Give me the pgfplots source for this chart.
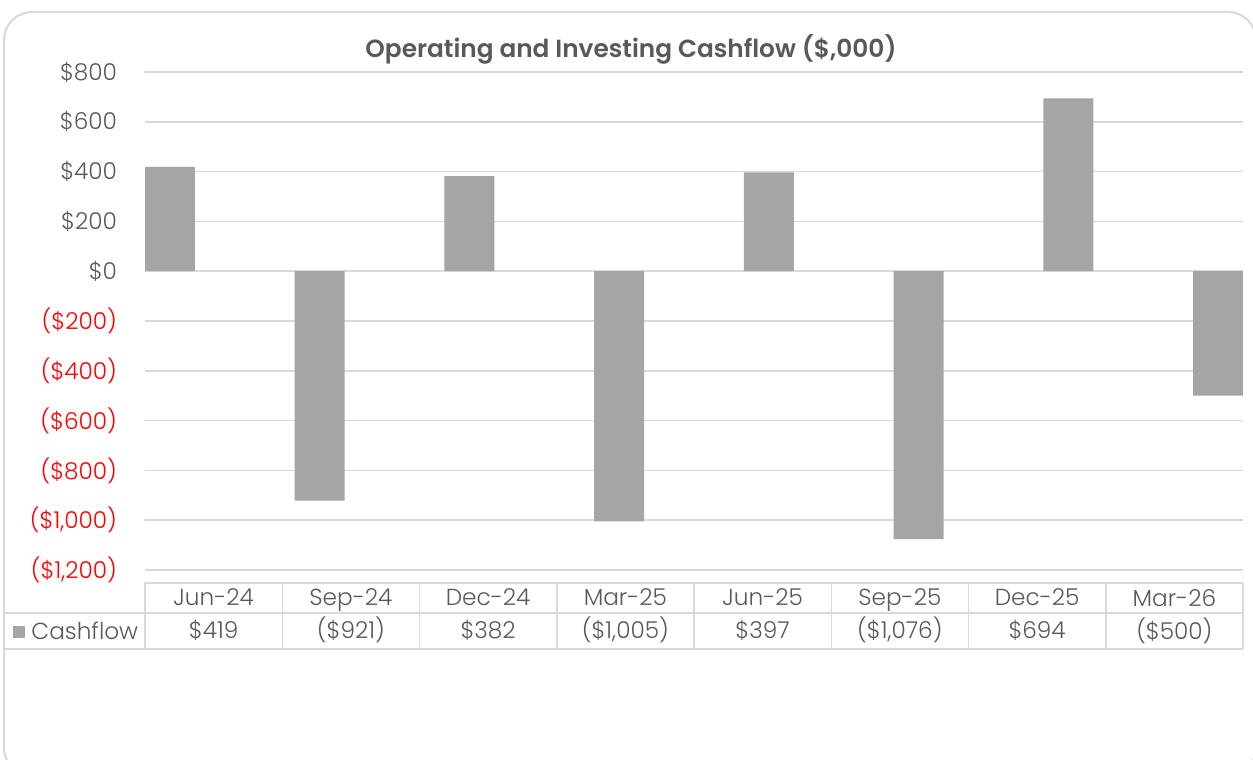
\documentclass[border=0pt]{standalone}
\usepackage{fontspec}
\setmainfont{Poppins Light}[BoldFont={Poppins SemiBold}]
\usepackage{pgfplots}
\pgfplotsset{compat=1.18}
\definecolor{txt}{HTML}{595959}
\definecolor{barc}{HTML}{A5A5A5}
\definecolor{grd}{HTML}{D9D9D9}
\begin{document}
\begin{tikzpicture}[x=0.5pt,y=0.5pt, font=\fontsize{11.6}{14}\selectfont]
\clip (0,0) rectangle (1253,760);
\fill[white] (0,0) rectangle (1253,760);
\draw[grd, line width=1pt, rounded corners=14pt] (4,748) rectangle (1256,-16);
\begin{axis}[at={(72.5pt,95pt)}, anchor=south west, scale only axis, width=549pt, height=249pt,
 xmin=-0.16667, xmax=7.16667, ymin=-1200, ymax=800,
 axis line style={draw=none}, major tick length=0,
 xtick={0.2917,1.2083,2.125,3.0417,3.9583,4.875,5.7917,6.7083},
 xticklabels={{Jun-24\\\$419},{Sep-24\\(\$921)},{Dec-24\\\$382},{Mar-25\\(\$1,005)},{Jun-25\\\$397},{Sep-25\\(\$1,076)},{Dec-25\\\$694},{Mar-26\\(\$500)}},
 xticklabel style={text=txt, align=center, yshift=-6pt, font=\fontsize{11.6}{16.5}\selectfont},
 ytick={-1200,-1000,...,800},
 yticklabels={{\color{red}(\$1,200)},{\color{red}(\$1,000)},{\color{red}(\$800)},{\color{red}(\$600)},{\color{red}(\$400)},{\color{red}(\$200)},\$0,\$200,\$400,\$600,\$800},
 yticklabel style={text=txt, xshift=-10.5pt, font=\fontsize{11.6}{14}\selectfont},
 ymajorgrids, grid style={grd, line width=0.75pt},
 clip=false]
\addplot[ybar, bar width=0.3333, fill=barc, draw=none, bar shift=0pt] coordinates {(0,419) (1,-921) (2,382) (3,-1005) (4,397) (5,-1076) (6,694) (7,-500)};
\end{axis}
\node[txt, font=\fontsize{12.4}{15}\selectfont\bfseries] at (631,711) {Operating and Investing Cashflow (\$,000)};
\draw[grd, line width=0.75pt] (145,177) -- (1243,177);
\draw[grd, line width=0.75pt] (4,147) -- (1243,147);
\draw[grd, line width=0.75pt] (4,111) -- (1243,111);
\foreach \xx in {145,282.25,419.5,556.75,694,831.25,968.5,1105.75,1243}
  \draw[grd, line width=0.75pt] (\xx,177) -- (\xx,111);
\fill[barc] (13,134) rectangle (25,122);
\node[txt, anchor=west, inner sep=0pt] at (31,129) {Cashflow};
\end{tikzpicture}
\end{document}
